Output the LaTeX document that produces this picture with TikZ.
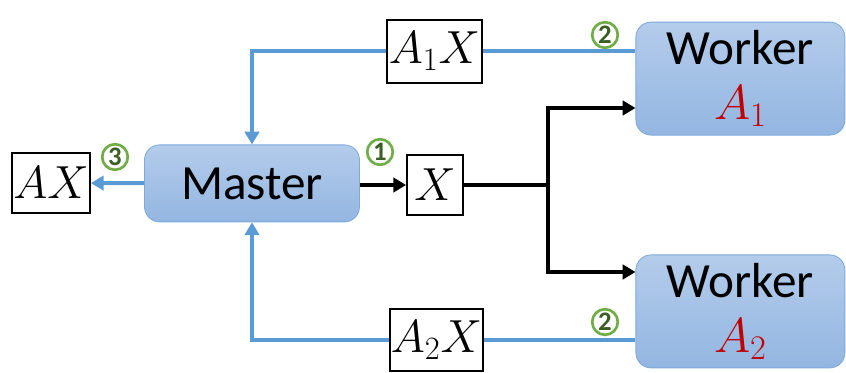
\documentclass[tikz,border=0pt]{standalone}
\usepackage{fix-cm}
\usepackage{fontspec}
\setmainfont{Carlito}
\usetikzlibrary{arrows.meta, positioning}

\definecolor{bleu}{HTML}{5B9BD5}
\definecolor{bleuhaut}{HTML}{B4CCEB}
\definecolor{bleubas}{HTML}{93B6E1}
\definecolor{bord}{HTML}{7DA9DB}
\definecolor{vert}{HTML}{70AD47}
\definecolor{vertfonce}{HTML}{3B5E25}
\definecolor{rouge}{HTML}{C00000}

\begin{document}
\begin{tikzpicture}[x=1cm,y=1cm,
  bloc/.style={rounded corners=0.38cm, draw=bord, line width=0.6pt,
    top color=bleuhaut, bottom color=bleubas, align=center,
    font=\fontsize{35}{42}\selectfont, inner sep=0pt},
  cadre/.style={draw=black, line width=1.3pt, fill=white, inner sep=0pt,
    minimum height=1.5cm, font=\fontsize{33}{38}\selectfont},
  lien/.style={draw=bleu, line width=2.8pt},
  retour/.style={lien, -{Triangle[length=0.32cm,width=0.36cm]}},
  envoi/.style={draw=black, line width=2.8pt, -{Triangle[length=0.32cm,width=0.36cm]}},
  etape/.style={circle, draw=vert, line width=1.9pt, minimum size=0.64cm, inner sep=0pt,
    text=vertfonce, font=\fontsize{19}{19}\selectfont\bfseries}]

\useasboundingbox (0,0) rectangle (21.15,9.325);

%% ================= blocs ==================================================
\node[bloc, minimum width=5.375cm, minimum height=1.925cm] (master) at (6.3,4.74) {Master};
\node[bloc, minimum width=5.225cm, minimum height=2.825cm] (w1) at (18.51,7.36)
  {Worker\\[-0.1cm]{\fontsize{35}{40}\selectfont\color{rouge}$A_1$}};
\node[bloc, minimum width=5.225cm, minimum height=2.825cm] (w2) at (18.51,1.54)
  {Worker\\[-0.1cm]{\fontsize{35}{40}\selectfont\color{rouge}$A_2$}};

%% ================= cadres (résultats) =====================================
\node[cadre, minimum width=1.95cm] (ax)  at (1.275,4.75) {$AX$};
\node[cadre, minimum width=1.4cm]  (x)   at (10.875,4.7) {$X$};
\node[cadre, minimum width=2.375cm, minimum height=1.575cm] (a1x) at (10.86,8.04) {$A_1X$};
\node[cadre, minimum width=2.33cm, minimum height=1.55cm]  (a2x) at (10.91,0.825) {$A_2X$};

%% ================= envoi de X aux workers =================================
\coordinate (fourche) at (13.7,4.7);
\draw[envoi] (master.east |- x) -- (x);
\draw[line width=2.8pt] (x) -- (fourche);
\draw[envoi] (fourche) |- ([yshift=-0.735cm]w1.west);
\draw[envoi] (fourche) |- ([yshift=0.985cm]w2.west);

%% ================= retours vers le master =================================
\draw[lien] (w1.west |- a1x) -- (a1x);
\draw[retour] (a1x.west) -| (master.north);
\draw[lien] (w2.west |- a2x) -- (a2x);
\draw[retour] (a2x.west) -| (master.south);
\draw[retour] (master) -- (ax);

%% ================= étapes =================================================
\node[etape] (e1)  at (9.5,5.525)   {1};
\node[etape] (e2h) at (15.125,8.45) {2};
\node[etape] (e2b) at (15.125,1.275) {2};
\node[etape] (e3)  at (2.875,5.4)   {3};
\end{tikzpicture}
\end{document}
